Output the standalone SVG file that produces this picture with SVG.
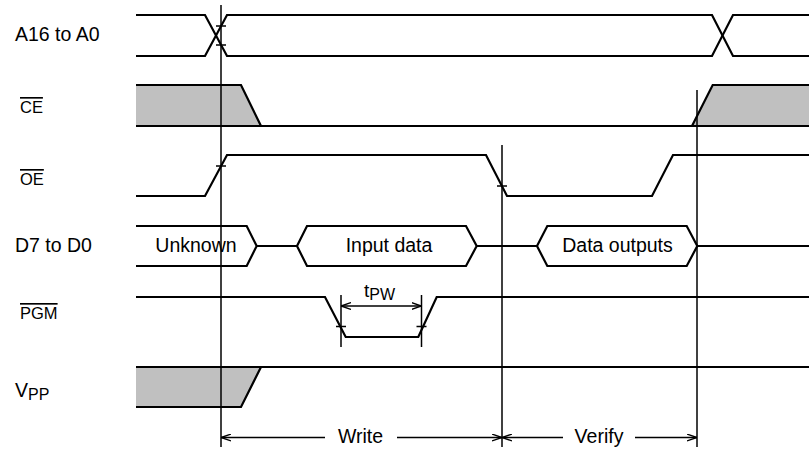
<svg xmlns="http://www.w3.org/2000/svg" width="809" height="449" viewBox="0 0 809 449">
<style>
.sig{fill:none;stroke:#000;stroke-width:2.2;stroke-linejoin:miter}
.fill{fill:#c0c0c0;stroke:none}
.vl{fill:none;stroke:#000;stroke-width:1.5}
.tk{fill:none;stroke:#000;stroke-width:1.3}
.lbl{font-family:"Liberation Sans",Arial,sans-serif;font-size:19.5px;fill:#000}
.ov{font-family:"Liberation Sans",Arial,sans-serif;font-size:16.5px;fill:#000;text-decoration:overline}
.sub{font-size:16px}
.mid{text-anchor:middle}
</style>
<defs>
<marker id="arr" viewBox="0 0 10 8" refX="10" refY="4" markerWidth="10" markerHeight="8" markerUnits="userSpaceOnUse" orient="auto-start-reverse">
<path d="M0,0.6 L10,4 L0,7.4" fill="none" stroke="#000" stroke-width="1.4"/>
</marker>
</defs>
<rect width="809" height="449" fill="#fff"/>

<g id="addr">
<text class="lbl" x="15" y="41">A16 to A0</text>
<path class="sig" d="M136,15 H205 L227,56 H712 L733,15 H809"/>
<path class="sig" d="M136,56 H205 L227,15 H712 L733,56 H809"/>
<path class="tk" d="M216,26 H226 M216,45 H226"/>
</g>

<g id="ce">
<text class="ov" x="20" y="113">CE</text>
<polygon class="fill" points="136,85 241,85 261,126 136,126"/>
<polygon class="fill" points="692,126 712.7,85 809,85 809,126"/>
<path class="sig" d="M136,85 H241 L261,126"/>
<path class="sig" d="M136,126 H809"/>
<path class="sig" d="M692,126 L712.7,85 H809"/>
</g>

<g id="oe">
<text class="ov" x="20" y="185">OE</text>
<path class="sig" d="M136,196 H205 L227,155 H486 L507,196 H652 L673,155 H809"/>
<path class="tk" d="M216,166 H226 M497,186 H507"/>
</g>

<g id="data">
<text class="lbl" x="15" y="252">D7 to D0</text>
<path class="sig" d="M136,226 H246.7 L256.7,246 L246.7,266 H136"/>
<path class="sig" d="M256.7,246 H297"/>
<path class="sig" d="M297,246 L307,226 H466 L476.7,246 L466,266 H307 Z"/>
<path class="sig" d="M476.7,246 H537"/>
<path class="sig" d="M537,246 L547.3,226 H686.7 L697.3,246 L686.7,266 H547.3 Z"/>
<path class="sig" d="M697.3,246 H809"/>
<text class="lbl mid" x="196" y="252">Unknown</text>
<text class="lbl mid" x="389" y="252">Input data</text>
<text class="lbl mid" x="617.5" y="252">Data outputs</text>
</g>

<g id="pgm">
<text class="ov" x="20" y="319">PGM</text>
<path class="sig" d="M136,297 H325 L345.7,337 H418.3 L436.7,297 H809"/>
<path class="tk" d="M336,326.5 H346 M416.5,326.5 H426.5"/>
</g>

<g id="vpp">
<text class="lbl" x="15" y="397">V<tspan class="sub" dy="3">PP</tspan></text>
<polygon class="fill" points="136,367 261,367 241,407 136,407"/>
<path class="sig" d="M136,367 H809"/>
<path class="sig" d="M136,407 H241 L261,367"/>
</g>

<g id="connectors">
<line class="vl" x1="221" y1="5" x2="221" y2="447"/>
<line class="vl" x1="502" y1="145" x2="502" y2="447"/>
<line class="vl" x1="697" y1="90" x2="697" y2="447"/>
<line class="vl" x1="341" y1="295" x2="341" y2="347"/>
<line class="vl" x1="421.5" y1="295" x2="421.5" y2="347"/>
<line class="vl" x1="341" y1="306" x2="421.5" y2="306" marker-start="url(#arr)" marker-end="url(#arr)"/>
<line class="vl" x1="221" y1="437.5" x2="325" y2="437.5" marker-start="url(#arr)"/>
<line class="vl" x1="397" y1="437.5" x2="502" y2="437.5" marker-end="url(#arr)"/>
<line class="vl" x1="502" y1="437.5" x2="563" y2="437.5" marker-start="url(#arr)"/>
<line class="vl" x1="635" y1="437.5" x2="697" y2="437.5" marker-end="url(#arr)"/>
</g>

<g id="labels">
<text class="lbl" x="364" y="297" style="font-size:19px">t<tspan style="font-size:16px" dy="2.5">PW</tspan></text>
<text class="lbl mid" x="360.5" y="443">Write</text>
<text class="lbl mid" x="599" y="443">Verify</text>
</g>
</svg>
